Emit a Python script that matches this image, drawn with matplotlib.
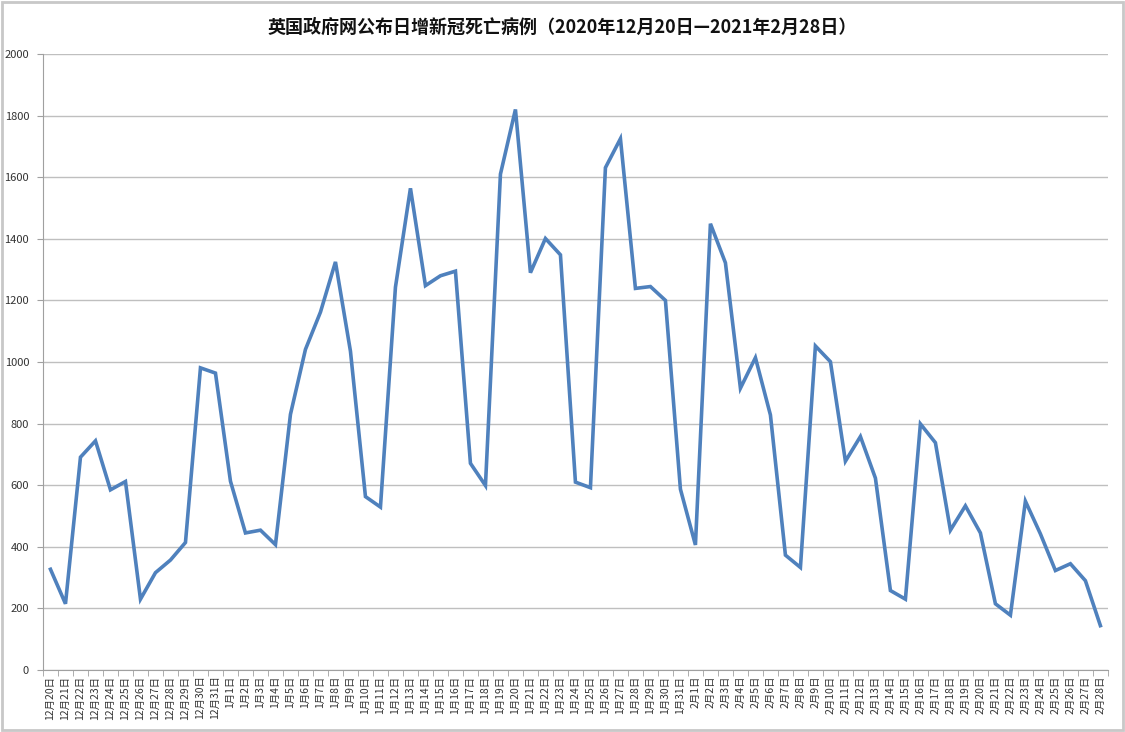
import matplotlib
matplotlib.use("Agg")
import matplotlib.pyplot as plt
from matplotlib.patches import Rectangle

plt.rcParams["font.family"] = ["Noto Sans CJK SC", "DejaVu Sans"]

# daily deaths, 2020-12-20 .. 2021-02-28
dec_days = list(range(20, 32))
jan_days = list(range(1, 32))
feb_days = list(range(1, 29))

dec_values = [327, 215, 691, 744, 585, 612, 230, 316, 357, 414, 981, 964]
jan_values = [613, 445, 454, 407, 830, 1041, 1162, 1325, 1035, 563, 529,
              1243, 1564, 1248, 1280, 1295, 671, 599, 1610, 1820, 1290,
              1401, 1348, 610, 592, 1631, 1725, 1239, 1245, 1200, 587]
feb_values = [406, 1449, 1322, 915, 1014, 828, 373, 333, 1052, 1001, 678,
              758, 623, 258, 230, 799, 738, 454, 533, 445, 215, 178, 548,
              442, 323, 345, 290, 144]

labels = ([f"12月{d}日" for d in dec_days]
          + [f"1月{d}日" for d in jan_days]
          + [f"2月{d}日" for d in feb_days])
values = dec_values + jan_values + feb_values
y_ticks = [0, 200, 400, 600, 800, 1000, 1200, 1400, 1600, 1800, 2000]

title = "英国政府网公布日增新冠死亡病例（2020年12月20日—2021年2月28日）"

fig = plt.figure(figsize=(11.25, 7.32), dpi=100)
ax = fig.add_axes([0.0382, 0.0847, 0.9466, 0.8415])

x = list(range(len(values)))
ax.plot(x, values, color="#4F81BD", linewidth=2.6, solid_joinstyle="miter")

ax.set_xlim(-0.5, len(values) - 0.5)
ax.set_ylim(0, 2000)
ax.set_yticks(y_ticks)
ax.set_yticklabels([str(v) for v in y_ticks], fontsize=8, color="#333333")
ax.yaxis.grid(True, color="#BFBFBF", linewidth=1)
ax.set_axisbelow(True)

ax.set_xticks(x)
ax.set_xticklabels(labels, rotation=90, fontsize=7.5, color="#333333")
ax.tick_params(axis="x", length=0, pad=4)
ax.set_xticks([i - 0.5 for i in range(len(values) + 1)], minor=True)
ax.tick_params(axis="x", which="minor", length=4, color="#A0A0A0")
ax.tick_params(axis="y", length=4, color="#A0A0A0", pad=6)

for side in ["top", "right"]:
    ax.spines[side].set_visible(False)
for side in ["left", "bottom"]:
    ax.spines[side].set_color("#A0A0A0")

fig.text(0.5, 0.963, title, ha="center", va="center", fontsize=13,
         fontweight="bold", color="#111111")

# chart area border
fig.patches.append(Rectangle((0.002, 0.003), 0.996, 0.994,
                             transform=fig.transFigure, fill=False,
                             edgecolor="#C8C8C8", linewidth=2))

fig.savefig("out.png", dpi=100)
